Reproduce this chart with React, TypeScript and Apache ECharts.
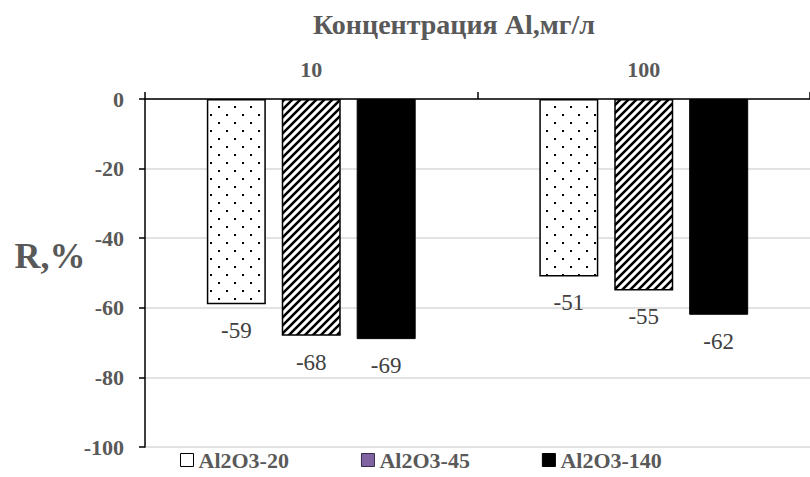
import React, { useEffect, useRef } from 'react';
import * as echarts from 'echarts';

const categories = ['10', '100'];
const seriesNames = ['Al2O3-20', 'Al2O3-45', 'Al2O3-140'];
const al20 = [-59, -51];
const al45 = [-68, -55];
const al140 = [-69, -62];
const yMin = -100;
const yMax = 0;
const yStep = 20;
const chartTitle = 'Концентрация Al,мг/л';
const yTitle = 'R,%';

const SERIF = 'Liberation Serif';
const GRAY = '#595959';

function dotPattern(): HTMLCanvasElement {
  const c = document.createElement('canvas');
  c.width = 16;
  c.height = 16;
  const ctx = c.getContext('2d')!;
  ctx.fillStyle = '#fff';
  ctx.fillRect(0, 0, 16, 16);
  ctx.fillStyle = '#000';
  ctx.fillRect(2, 2, 2, 2);
  ctx.fillRect(10, 10, 2, 2);
  return c;
}

function hatchPattern(): HTMLCanvasElement {
  const s = 8;
  const c = document.createElement('canvas');
  c.width = s;
  c.height = s;
  const ctx = c.getContext('2d')!;
  ctx.fillStyle = '#fff';
  ctx.fillRect(0, 0, s, s);
  ctx.strokeStyle = '#000';
  ctx.lineWidth = 2.6;
  ctx.beginPath();
  ctx.moveTo(-1, s + 1);
  ctx.lineTo(s + 1, -1);
  ctx.moveTo(-1, 1);
  ctx.lineTo(1, -1);
  ctx.moveTo(s - 1, s + 1);
  ctx.lineTo(s + 1, s - 1);
  ctx.stroke();
  return c;
}

export default function App() {
  const ref = useRef<HTMLDivElement>(null);
  useEffect(() => {
    if (!ref.current) return;
    const chart = echarts.init(ref.current, undefined, { renderer: 'svg' });
    const dots = dotPattern();
    const hatch = hatchPattern();
    const label = {
      show: true,
      position: 'bottom',
      distance: 15,
      color: '#404040',
      fontSize: 23,
      fontFamily: SERIF,
    };
    const barCommon = {
      type: 'bar',
      barWidth: 59,
      barGap: '27%',
      label,
    };
    chart.setOption({
      animation: false,
      backgroundColor: '#fff',
      textStyle: { fontFamily: SERIF },
      grid: { left: 145, top: 99, width: 672, bottom: 30, containLabel: false },
      graphic: [
        {
          type: 'text',
          x: 454,
          y: 24,
          style: {
            text: chartTitle,
            fontSize: 28,
            fontWeight: 'bold',
            fontFamily: SERIF,
            fill: GRAY,
            align: 'center',
            verticalAlign: 'middle',
          },
        },
        {
          type: 'text',
          x: 50,
          y: 256,
          style: {
            text: yTitle,
            fontSize: 36,
            fontWeight: 'bold',
            fontFamily: SERIF,
            fill: GRAY,
            align: 'center',
            verticalAlign: 'middle',
          },
        },
      ],
      legend: {
        left: 180,
        top: 449,
        padding: 0,
        itemWidth: 13,
        itemHeight: 13,
        itemGap: 72,
        icon: 'rect',
        textStyle: { fontSize: 22, fontWeight: 'bold', fontFamily: SERIF, color: GRAY },
        data: [
          { name: seriesNames[0], itemStyle: { color: '#fff', borderColor: '#000', borderWidth: 1 } },
          { name: seriesNames[1], itemStyle: { color: '#8064A2', borderColor: '#3a2a50', borderWidth: 1 } },
          { name: seriesNames[2], itemStyle: { color: '#000', borderColor: '#000', borderWidth: 1 } },
        ],
      },
      xAxis: {
        type: 'category',
        position: 'top',
        data: categories,
        axisLine: { show: true, onZero: false, lineStyle: { color: '#000', width: 1.5 } },
        axisTick: { show: true, length: 7, lineStyle: { color: '#000', width: 1.5 } },
        axisLabel: { margin: 19, fontSize: 22, fontWeight: 'bold', fontFamily: SERIF, color: GRAY },
        splitLine: { show: false },
      },
      yAxis: {
        type: 'value',
        min: yMin,
        max: yMax,
        interval: yStep,
        axisLine: { show: true, lineStyle: { color: '#000', width: 1.5 } },
        axisTick: { show: true, length: 6, lineStyle: { color: '#000', width: 1.5 } },
        axisLabel: { margin: 21, fontSize: 22, fontWeight: 'bold', fontFamily: SERIF, color: GRAY },
        splitLine: { show: true, lineStyle: { color: '#d9d9d9', width: 1.5 } },
      },
      series: [
        {
          ...barCommon,
          name: seriesNames[0],
          data: al20,
          itemStyle: { color: { image: dots, repeat: 'repeat' }, borderColor: '#000', borderWidth: 1.5 },
        },
        {
          ...barCommon,
          name: seriesNames[1],
          data: al45,
          itemStyle: { color: { image: hatch, repeat: 'repeat' }, borderColor: '#000', borderWidth: 1.5 },
        },
        {
          ...barCommon,
          name: seriesNames[2],
          data: al140,
          itemStyle: { color: '#000', borderColor: '#000', borderWidth: 1 },
        },
      ],
    });
    return () => chart.dispose();
  }, []);
  return (
    <div
      ref={ref}
      style={{ position: 'fixed', left: 0, top: 0, width: 810, height: 477, background: '#fff' }}
    />
  );
}
